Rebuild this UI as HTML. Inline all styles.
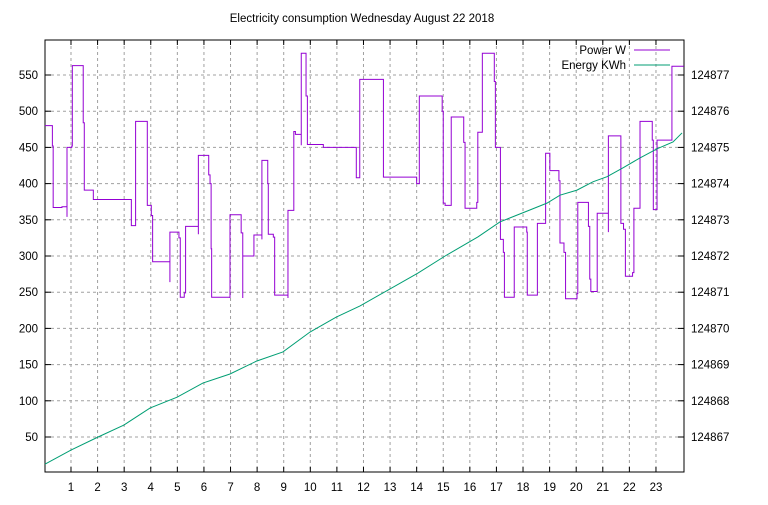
<!DOCTYPE html>
<html><head><meta charset="utf-8"><style>
body{margin:0;background:#fff;}
svg text{font-family:"Liberation Sans",sans-serif;font-size:11.5px;fill:#000;}
</style></head><body>
<svg id="chart" width="768" height="500">
<text x="362" y="22" text-anchor="middle">Electricity consumption Wednesday August 22 2018</text>
<g id="grid"></g><g id="axes"></g><g id="series"></g>
<g>
<text x="626" y="54" text-anchor="end">Power W</text>
<line x1="634" y1="50" x2="670" y2="50" stroke="#9400d3" stroke-width="1"/>
<text x="626" y="69" text-anchor="end">Energy KWh</text>
<line x1="634" y1="65" x2="670" y2="65" stroke="#009e73" stroke-width="1"/>
</g>
</svg>
<script>
const xTicks=[1,2,3,4,5,6,7,8,9,10,11,12,13,14,15,16,17,18,19,20,21,22,23];
const powerTicks=[50,100,150,200,250,300,350,400,450,500,550];
const energyTicks=[124867,124868,124869,124870,124871,124872,124873,124874,124875,124876,124877];
const powerHours=[0.02,0.30,0.33,0.66,0.85,0.85,1.03,1.05,1.46,1.50,1.84,3.27,3.43,3.87,4.02,4.07,4.72,4.72,5.06,5.11,5.26,5.31,5.79,5.79,6.18,6.23,6.27,6.29,6.98,6.98,7.40,7.46,7.46,7.88,8.18,8.18,8.40,8.42,8.61,8.66,9.16,9.16,9.38,9.44,9.66,9.66,9.84,9.89,10.49,11.73,11.86,12.75,14.00,14.10,14.96,15.00,15.07,15.30,15.77,15.82,16.26,16.30,16.47,16.92,16.96,17.15,17.26,17.30,17.67,18.14,18.16,18.54,18.54,18.85,19.01,19.35,19.39,19.54,19.60,20.03,20.06,20.46,20.51,20.55,20.79,21.21,21.21,21.68,21.78,21.85,22.12,22.17,22.40,22.86,22.90,23.04,23.60,24.05];
const powerValues=[480,452,367,368,354,450,452,563,484,391,378,342,486,370,356,292,264,333,325,243,249,341,330,439,412,400,310,243,242,357,332,242,300,329,323,432,400,330,326,246,242,363,472,468,453,580,521,454,450,408,544,409,400,521,500,373,370,492,457,366,374,471,580,541,450,323,305,243,340,333,246,329,345,442,418,404,318,305,241,248,374,341,268,251,359,333,466,345,337,272,277,366,486,460,364,460,562,562];
const energyHours=[0.02,1.0,2.02,2.99,3.97,4.99,5.96,6.98,7.99,8.97,9.99,10.97,11.87,14.05,15.07,16.31,17.13,18.15,18.9,19.39,20.03,20.63,21.16,21.77,22.4,23.04,23.64,23.98];
const energyValues=[124866.25,124866.64,124867.0,124867.33,124867.8,124868.1,124868.49,124868.74,124869.1,124869.35,124869.9,124870.31,124870.62,124871.53,124872.0,124872.53,124872.94,124873.24,124873.46,124873.68,124873.82,124874.05,124874.19,124874.44,124874.71,124874.96,124875.15,124875.4];
const L=45,T=40,R=684,B=472,NS="http://www.w3.org/2000/svg";
const xs=h=>44.4+h*26.59;
const yp=v=>473.2-v*0.724;
const ye=k=>473.2-(k-124866)*36.2;
function mk(tag,attrs,parent){const e=document.createElementNS(NS,tag);for(const k in attrs)e.setAttribute(k,attrs[k]);parent.appendChild(e);return e;}
const grid=document.getElementById('grid'),axes=document.getElementById('axes'),series=document.getElementById('series');
xTicks.forEach(t=>{const x=xs(t);
 let g=mk('line',{x1:x,y1:T,x2:x,y2:B,stroke:'#a0a0a0','stroke-dasharray':'3,3'},grid);
 
 
 let tk=mk('path',{d:`M${x},${B}v-5M${x},${T}v5`,stroke:'#000'},axes);
 
 
 let tx=mk('text',{x:x,y:491,'text-anchor':'middle'},axes);tx.textContent=t;
 
 
});
powerTicks.forEach(t=>{const y=yp(t);
 let g=mk('line',{x1:L,y1:y,x2:R,y2:y,stroke:'#a0a0a0','stroke-dasharray':'3,3'},grid);
 
 
 let tk=mk('path',{d:`M${L},${y}h6`,stroke:'#000'},axes);
 
 
 let tx=mk('text',{x:38,y:y+4,'text-anchor':'end'},axes);tx.textContent=t;
 
 
});
energyTicks.forEach(t=>{const y=ye(t);
 let tk=mk('path',{d:`M${R},${y}h-6`,stroke:'#000'},axes);
 
 
 let tx=mk('text',{x:691,y:y+4},axes);tx.textContent=t;
 
 
});
let box=mk('rect',{x:L,y:T,width:R-L,height:B-T,fill:'none',stroke:'#000'},axes);


let d='M'+xs(powerHours[0])+','+yp(powerValues[0]);
for(let i=1;i<powerHours.length;i++){d+='H'+xs(powerHours[i]);if(i<powerValues.length)d+='V'+yp(powerValues[i]);}
let p=mk('path',{d:d,fill:'none',stroke:'#9400d3','stroke-width':1},series);


let e=mk('polyline',{points:energyHours.map((h,i)=>xs(h)+','+ye(energyValues[i])).join(' '),fill:'none',stroke:'#009e73','stroke-width':1},series);


</script>
</body></html>
